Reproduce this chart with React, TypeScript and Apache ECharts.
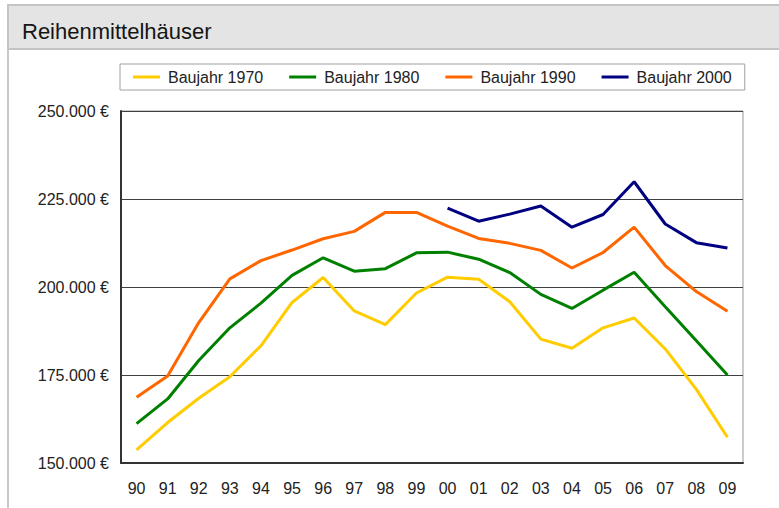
import React, { useEffect, useRef } from "react";
import * as echarts from "echarts";

const categories = ["90","91","92","93","94","95","96","97","98","99","00","01","02","03","04","05","06","07","08","09"];
const seriesNames = ["Baujahr 1970", "Baujahr 1980", "Baujahr 1990", "Baujahr 2000"];
const baujahr1970 = [153700,161500,168400,174500,183300,195600,202700,193200,189300,198300,202800,202200,195800,185200,182600,188400,191200,182400,170900,157300];
const baujahr1980 = [161200,168200,179100,188400,195400,203300,208300,204500,205200,209700,209900,207900,204100,197900,193900,199100,204200,194400,184700,175000];
const baujahr1990 = [168700,174700,189900,202300,207500,210500,213700,215800,221200,221200,217300,213800,212400,210400,205400,209800,217000,206100,198700,193100];
const baujahr2000 = [null,null,null,null,null,null,null,null,null,null,222400,218700,220700,223000,217000,220600,229900,217900,212600,211100];
const colors = ["#FFCC00", "#008000", "#FF6600", "#000080"];
const yMin = 150000;
const yMax = 250000;
const yStep = 25000;
const title = "Reihenmittelhäuser";

const FONT = "'Liberation Sans', Arial, sans-serif";

function fmtEuro(v: number): string {
  const s = Math.round(v).toString();
  const withDots = s.replace(/\B(?=(\d{3})+(?!\d))/g, ".");
  return withDots + " €";
}

export default function App() {
  const ref = useRef<HTMLDivElement>(null);
  useEffect(() => {
    if (!ref.current) return;
    const chart = echarts.init(ref.current, undefined, { renderer: "svg" });
    const data = [baujahr1970, baujahr1980, baujahr1990, baujahr2000];
    chart.setOption({
      animation: false,
      backgroundColor: "#ffffff",
      graphic: [
        {
          type: "rect",
          shape: { x: 8, y: 5, width: 800, height: 44 },
          style: { fill: "#e4e4e4", stroke: "#c4c4c4", lineWidth: 2 },
          silent: true,
        },
        {
          type: "line",
          shape: { x1: 8, y1: 49, x2: 8, y2: 508 },
          style: { stroke: "#c8c8c8", lineWidth: 2 },
          silent: true,
        },
        {
          type: "text",
          x: 22,
          y: 31,
          style: {
            text: title,
            fill: "#151515",
            font: "22px " + FONT,
            textVerticalAlign: "middle",
            textAlign: "left",
          },
          silent: true,
        },
      ],
      legend: {
        show: true,
        left: 120,
        top: 64,
        padding: [5, 13, 5, 13],
        itemGap: 26,
        itemWidth: 27,
        itemHeight: 3,
        icon: "rect",
        borderColor: "#a0a0a0",
        borderWidth: 1,
        borderRadius: 0,
        textStyle: { fontFamily: FONT, fontSize: 16, color: "#222", padding: [0, 0, 0, 3] },
        data: seriesNames,
      },
      grid: {
        left: 121,
        top: 111,
        right: 36,
        bottom: 45,
        show: true,
        borderColor: "#999999",
        borderWidth: 1,
        backgroundColor: "transparent",
      },
      xAxis: {
        type: "category",
        data: categories,
        boundaryGap: true,
        axisLine: { show: true, lineStyle: { color: "#333", width: 2 } },
        axisTick: { show: false },
        axisLabel: { fontFamily: FONT, fontSize: 16, color: "#222", margin: 17, interval: 0 },
        splitLine: { show: false },
      },
      yAxis: {
        type: "value",
        min: yMin,
        max: yMax,
        interval: yStep,
        axisLine: { show: true, lineStyle: { color: "#333", width: 2 } },
        axisTick: { show: false },
        axisLabel: {
          fontFamily: FONT,
          fontSize: 16,
          color: "#222",
          margin: 12,
          formatter: (v: number) => fmtEuro(v),
        },
        splitLine: { show: true, lineStyle: { color: "#404040", width: 1 } },
      },
      series: seriesNames.map((name, i) => ({
        name,
        type: "line",
        data: data[i],
        symbol: "none",
        showSymbol: false,
        connectNulls: false,
        lineStyle: { color: colors[i], width: 3 },
        itemStyle: { color: colors[i] },
        z: 2 + i,
      })),
    });
    return () => chart.dispose();
  }, []);
  return (
    <div
      ref={ref}
      style={{ position: "fixed", left: 0, top: 0, width: 779, height: 508 }}
    />
  );
}
